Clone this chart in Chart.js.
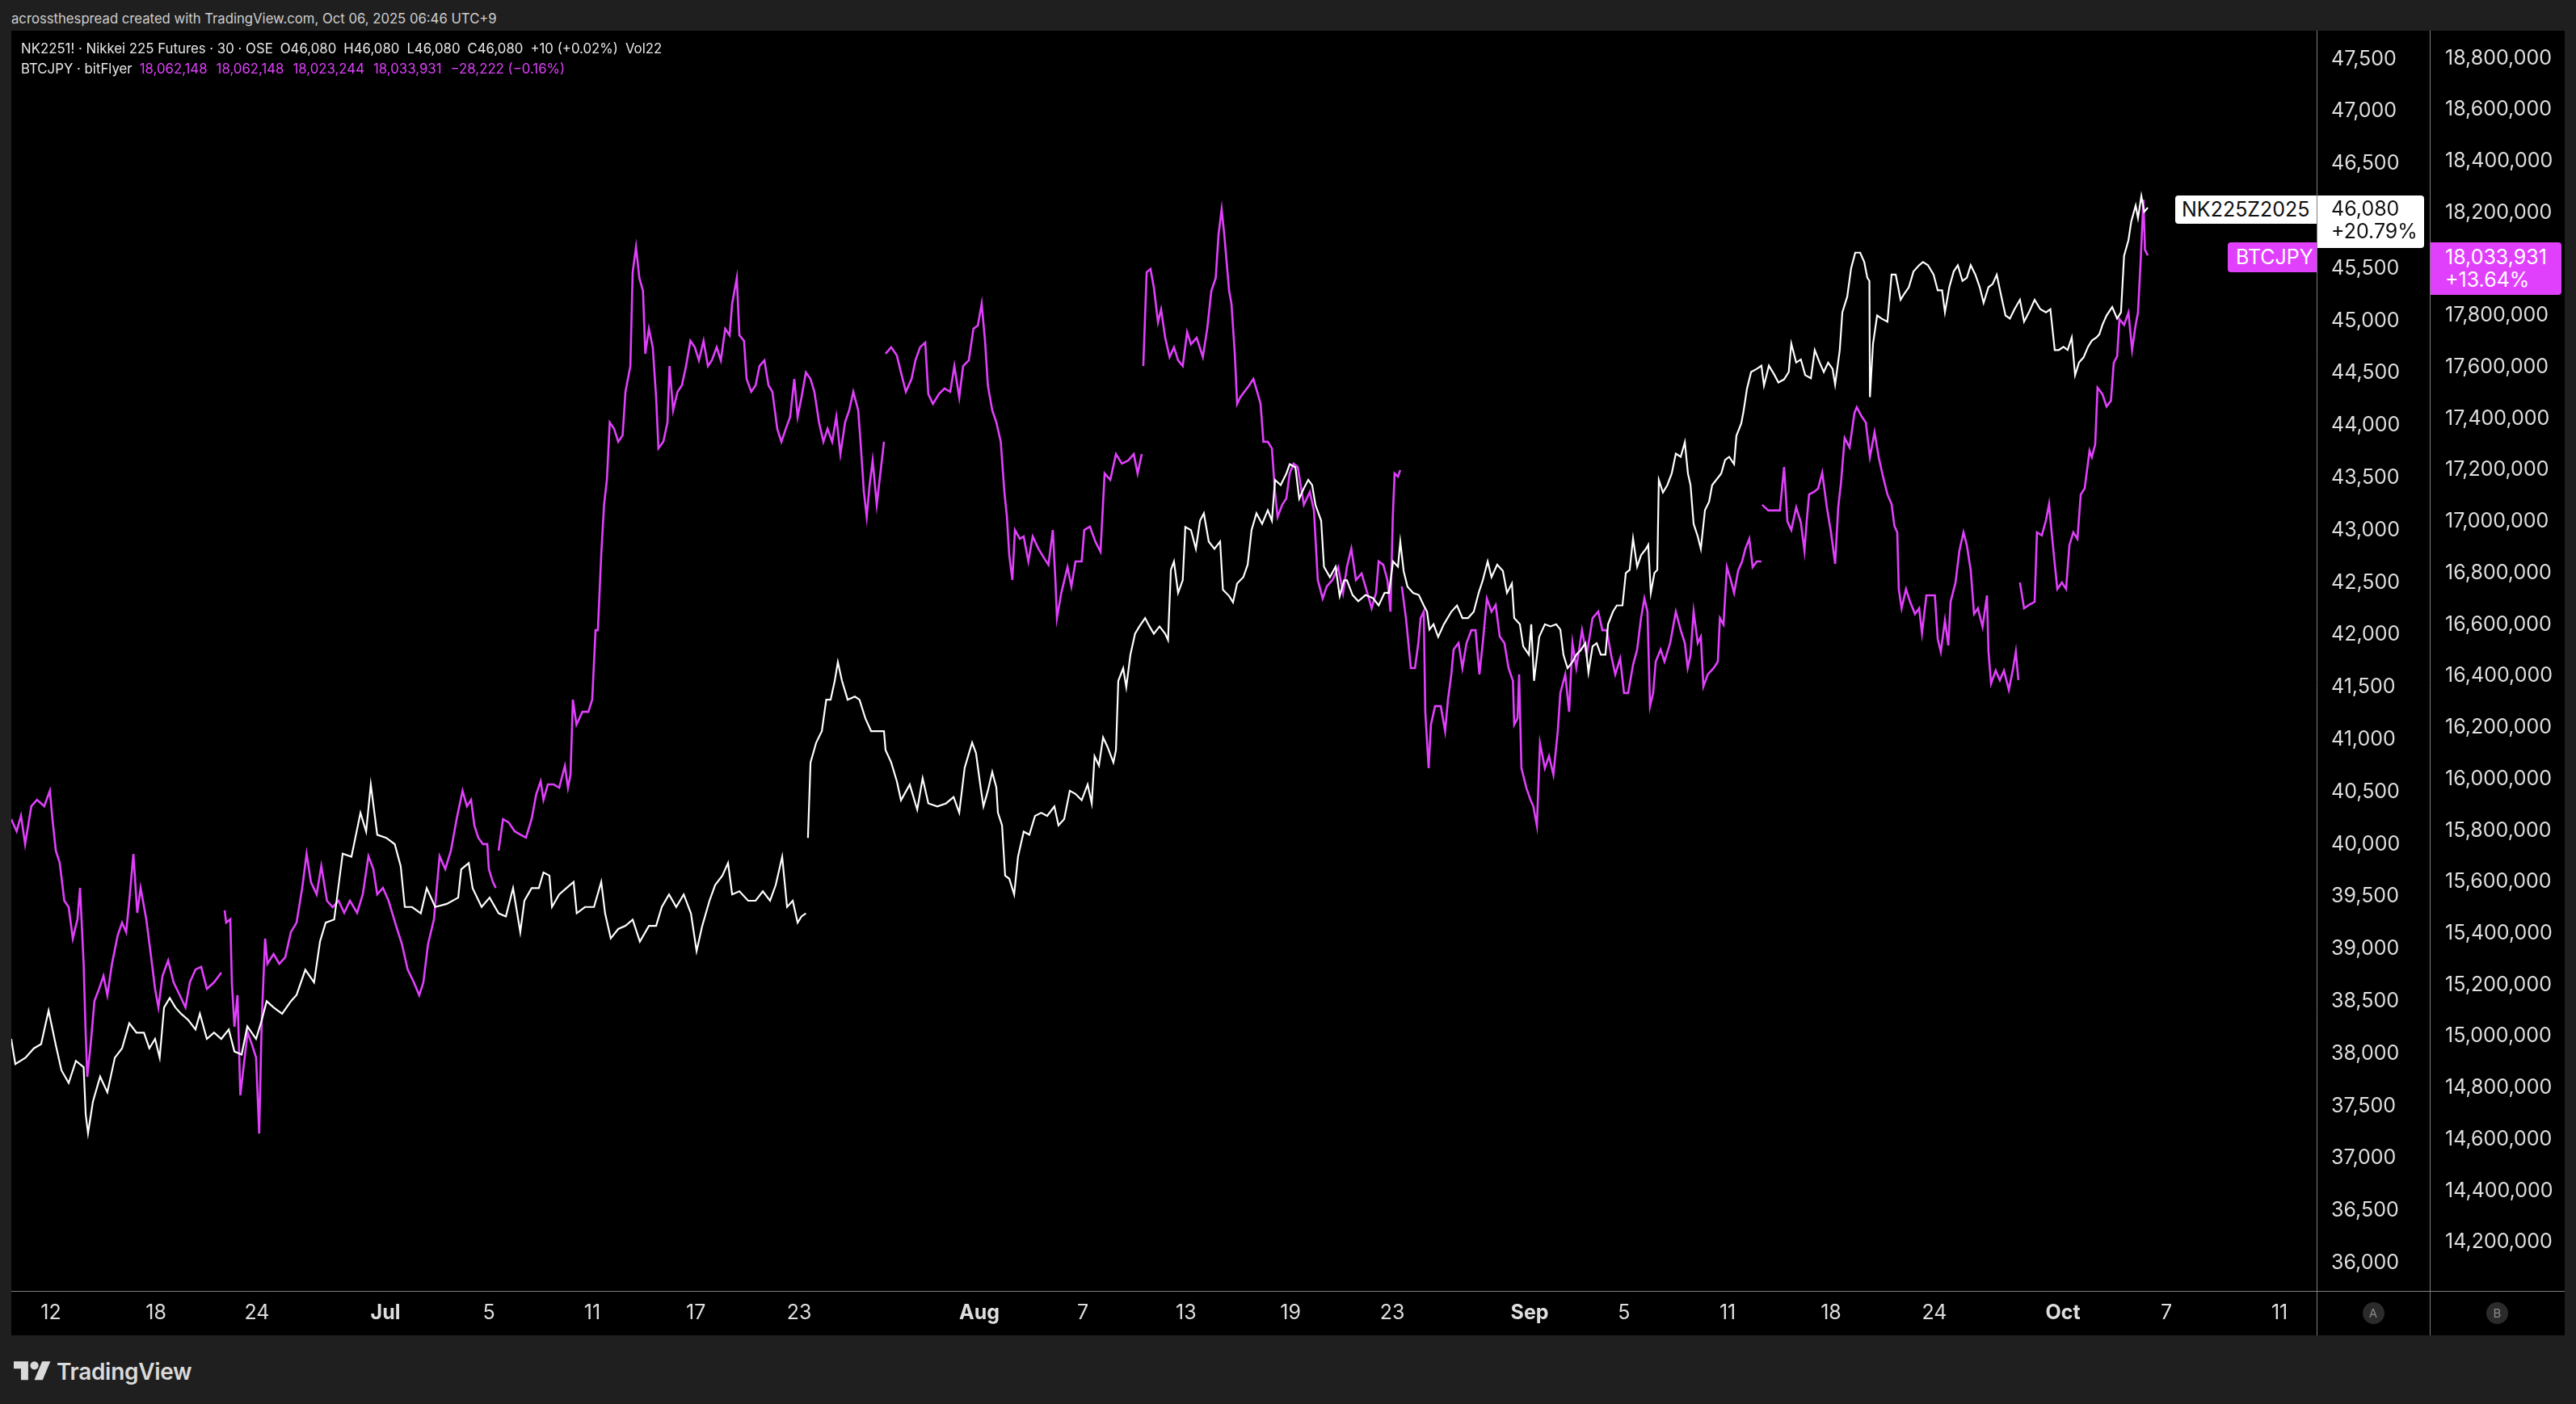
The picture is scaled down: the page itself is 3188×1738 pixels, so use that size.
<!DOCTYPE html>
<html>
<head>
<meta charset="utf-8">
<script src="https://cdn.jsdelivr.net/npm/chart.js@4.4.1/dist/chart.umd.min.js"></script>
<style>
html,body{margin:0;padding:0;background:#1f1f1f;width:3188px;height:1738px;overflow:hidden;font-family:Inter,"Noto Sans",sans-serif;}
#hdr{position:absolute;left:14px;top:13px;font-size:16.7px;line-height:20px;color:#cfcfcf;white-space:nowrap;}
#pane{position:absolute;left:14px;top:38px;width:3160px;height:1615px;background:#000;}
#legend{position:absolute;left:26px;top:48px;font-size:16.8px;line-height:25px;color:#e8e8e8;white-space:nowrap;}
#legend .g{display:inline-block;width:9px;}
#legend .g2{display:inline-block;width:11px;}
#legend .m{color:#e040fb;}
.lbl{position:absolute;font-size:25px;box-sizing:border-box;white-space:nowrap;}
#nkName{background:#fff;color:#111;width:175px;height:35px;line-height:35px;padding-left:8px;border-radius:4px 0 0 4px;}
#nkVal{background:#fff;color:#111;width:132px;height:65px;line-height:28px;padding:2px 0 0 17px;border-radius:0 4px 4px 0;}
#btcName{background:#e040fb;color:#fff;width:110px;height:37px;line-height:37px;padding-left:10px;border-radius:4px 0 0 4px;}
#btcVal{background:#e040fb;color:#fff;width:162px;height:65px;line-height:28px;padding:4px 0 0 18px;border-radius:0 4px 4px 0;}
.circ{position:absolute;width:27px;height:27px;border-radius:50%;background:#2b2b2b;color:#8a8a8a;font-size:15px;line-height:27px;text-align:center;}
#logo{position:absolute;left:17px;top:1680px;height:36px;display:flex;align-items:center;}
#logo span{font-size:28px;font-weight:600;color:#dadada;margin-left:7px;letter-spacing:-0.3px;}
</style>
</head>
<body>
<div id="hdr">acrossthespread created with TradingView.com, Oct 06, 2025 06:46 UTC+9</div>
<div id="pane"><canvas id="c" width="3160" height="1615"></canvas></div>
<div id="legend">
<div>NK2251! · Nikkei 225 Futures · 30 · OSE<span class="g"></span>O46,080<span class="g"></span>H46,080<span class="g"></span>L46,080<span class="g"></span>C46,080<span class="g"></span>+10 (+0.02%)<span class="g"></span>Vol22</div>
<div>BTCJPY · bitFlyer<span class="g"></span><span class="m">18,062,148<span class="g2"></span>18,062,148<span class="g2"></span>18,023,244<span class="g2"></span>18,033,931<span class="g2"></span>−28,222 (−0.16%)</span></div>
</div>
<div id="nkName" class="lbl">NK225Z2025</div>
<div id="nkVal" class="lbl"></div>
<div id="btcName" class="lbl">BTCJPY</div>
<div id="btcVal" class="lbl"></div>
<div id="circA" class="circ">A</div>
<div id="circB" class="circ">B</div>
<div id="logo"><svg width="46" height="36" viewBox="0 0 36 28"><path fill="#dadada" d="M14 22H7V11H0V4h14v18zM28 22h-8l7.5-18h8L28 22z"/><circle fill="#dadada" cx="20" cy="8" r="4"/></svg><span>TradingView</span></div>
<script>
// ---- time axis (trading days from Jun 12) ----
const tickDays = [0, 4.08, 7.99, 12.98, 16.99, 21.0, 25.02, 29.03, 36.02, 40.03, 44.04, 48.09, 52.04, 57.37, 61.03, 65.05, 69.06, 73.07, 78.06, 82.07, 86.46];
const tickLabels = ["12","18","24","Jul","5","11","17","23","Aug","7","13","19","23","Sep","5","11","18","24","Oct","7","11"];
const xMin = -1.536, xMax = 87.9;

// ---- price scales ----
const nkTicks = [36000,36500,37000,37500,38000,38500,39000,39500,40000,40500,41000,41500,42000,42500,43000,43500,44000,44500,45000,45500,46000,46500,47000,47500];
const btcTicks = [14200000,14400000,14600000,14800000,15000000,15200000,15400000,15600000,15800000,16000000,16200000,16400000,16600000,16800000,17000000,17200000,17400000,17600000,17800000,18000000,18200000,18400000,18600000,18800000];
const nkRange = [35733, 47770];
const btcRange = [14011400, 18906700];

// ---- series: [trading day, price] ----
const nkData = [[-1.54,38140],[-1.38,37900],[-0.99,37960],[-0.66,38050],[-0.38,38090],[-0.09,38410],[0.19,38080],[0.41,37840],[0.69,37720],[0.97,37930],[1.27,37870],[1.35,37420],[1.44,37240],[1.63,37540],[1.91,37780],[2.19,37630],[2.48,37960],[2.76,38050],[3.04,38290],[3.32,38200],[3.61,38200],[3.82,38050],[4.04,38140],[4.22,37960],[4.39,38440],[4.61,38530],[4.83,38440],[5.05,38380],[5.33,38320],[5.61,38230],[5.78,38380],[6.05,38140],[6.33,38200],[6.61,38140],[6.90,38230],[7.12,38020],[7.40,37990],[7.62,38260],[7.96,38140],[8.18,38320],[8.37,38500],[8.64,38440],[8.97,38380],[9.31,38500],[9.53,38560],[9.87,38800],[10.21,38680],[10.44,39070],[10.66,39250],[10.99,39280],[11.32,39910],[11.66,39880],[12.01,40300],[12.23,40120],[12.41,40570],[12.66,40090],[13.01,40060],[13.34,40000],[13.57,39790],[13.73,39400],[14.01,39400],[14.35,39340],[14.58,39580],[14.91,39400],[15.36,39430],[15.80,39490],[15.92,39760],[16.21,39820],[16.36,39580],[16.71,39400],[17.02,39490],[17.37,39340],[17.65,39310],[17.93,39580],[18.21,39160],[18.37,39460],[18.65,39580],[18.93,39580],[19.11,39730],[19.34,39700],[19.44,39400],[19.72,39520],[20.00,39580],[20.28,39640],[20.40,39340],[20.72,39400],[21.07,39400],[21.35,39640],[21.50,39340],[21.72,39100],[22.01,39190],[22.29,39220],[22.57,39280],[22.85,39070],[23.20,39220],[23.48,39220],[23.70,39400],[23.98,39520],[24.26,39400],[24.55,39520],[24.83,39340],[25.05,38980],[25.27,39220],[25.55,39460],[25.77,39610],[26.05,39700],[26.27,39820],[26.43,39520],[26.71,39550],[27.05,39460],[27.34,39460],[27.62,39550],[27.90,39460],[28.12,39610],[28.37,39880],[28.56,39400],[28.78,39460],[28.97,39250],[29.12,39310],[29.29,39340],[29.33,null],[29.37,40060],[29.47,40780],[29.69,40970],[29.91,41080],[30.08,41380],[30.25,41380],[30.41,41560],[30.53,41740],[30.69,41560],[30.91,41380],[31.19,41410],[31.37,41380],[31.60,41200],[31.82,41080],[32.10,41080],[32.32,41080],[32.38,40900],[32.60,40780],[32.82,40600],[32.98,40420],[33.32,40570],[33.61,40330],[33.82,40630],[34.04,40390],[34.39,40360],[34.73,40390],[35.02,40450],[35.24,40300],[35.45,40730],[35.74,40970],[35.89,40870],[36.07,40540],[36.18,40360],[36.35,40510],[36.52,40690],[36.68,40540],[36.74,40300],[36.90,40180],[37.02,39700],[37.18,39670],[37.37,39520],[37.52,39880],[37.74,40120],[37.96,40090],[38.18,40270],[38.42,40300],[38.65,40270],[38.93,40360],[39.09,40180],[39.31,40240],[39.53,40510],[39.75,40480],[39.99,40420],[40.22,40570],[40.38,40390],[40.49,40840],[40.66,40750],[40.82,41020],[40.99,40930],[41.22,40780],[41.32,40900],[41.41,41560],[41.60,41680],[41.72,41500],[41.88,41810],[42.06,42010],[42.23,42080],[42.45,42160],[42.62,42080],[42.79,42010],[43.01,42080],[43.23,42010],[43.34,41950],[43.45,42620],[43.57,42700],[43.73,42400],[43.91,42520],[44.01,43030],[44.23,43000],[44.42,42820],[44.58,43090],[44.73,43160],[44.92,42890],[45.14,42820],[45.36,42890],[45.47,42430],[45.71,42370],[45.86,42310],[46.02,42490],[46.26,42550],[46.43,42670],[46.58,43000],[46.77,43160],[46.99,43060],[47.21,43190],[47.37,43090],[47.49,43480],[47.71,43430],[47.93,43540],[48.06,43630],[48.28,43600],[48.43,43300],[48.61,43400],[48.78,43480],[48.93,43430],[49.06,43240],[49.28,43090],[49.39,42650],[49.62,42550],[49.84,42650],[50.00,42370],[50.17,42520],[50.28,42520],[50.50,42380],[50.72,42320],[51.00,42380],[51.29,42350],[51.51,42280],[51.74,42400],[51.91,42400],[52.07,42700],[52.26,42650],[52.35,42890],[52.48,42610],[52.63,42460],[52.85,42400],[53.07,42380],[53.26,42280],[53.39,42220],[53.48,42050],[53.64,42100],[53.82,41980],[54.04,42100],[54.33,42220],[54.55,42280],[54.76,42160],[54.98,42160],[55.20,42220],[55.39,42400],[55.55,42520],[55.74,42700],[55.89,42550],[56.11,42670],[56.33,42610],[56.49,42400],[56.68,42490],[56.77,42160],[56.99,42100],[57.12,41890],[57.34,41810],[57.43,42100],[57.54,41560],[57.74,41980],[57.96,42100],[58.18,42080],[58.40,42100],[58.56,42050],[58.68,41810],[58.84,41680],[59.03,41740],[59.18,41810],[59.34,41850],[59.53,41920],[59.65,41640],[59.81,41890],[59.97,41920],[60.13,41810],[60.31,41810],[60.41,42100],[60.60,42220],[60.75,42280],[60.97,42280],[61.10,42590],[61.25,42620],[61.38,42920],[61.54,42650],[61.69,42760],[61.88,42820],[61.97,42860],[62.07,42400],[62.21,42590],[62.32,42620],[62.38,43480],[62.54,43360],[62.71,43430],[62.88,43540],[63.04,43730],[63.23,43700],[63.39,43840],[63.51,43540],[63.61,43430],[63.73,43060],[63.89,42940],[64.01,42820],[64.17,43190],[64.33,43270],[64.45,43430],[64.61,43480],[64.80,43540],[64.95,43670],[65.11,43700],[65.30,43630],[65.39,43900],[65.58,44020],[65.67,44140],[65.80,44350],[65.96,44510],[66.18,44540],[66.36,44570],[66.46,44380],[66.65,44570],[66.87,44480],[67.02,44410],[67.24,44440],[67.42,44510],[67.52,44780],[67.71,44600],[67.89,44630],[68.06,44480],[68.28,44450],[68.43,44720],[68.62,44600],[68.78,44510],[68.95,44600],[69.12,44540],[69.22,44390],[69.40,44720],[69.50,45080],[69.69,45230],[69.84,45500],[70.00,45650],[70.19,45650],[70.35,45560],[70.47,45410],[70.55,45380],[70.57,44270],[70.69,44780],[70.85,45050],[71.02,45020],[71.25,44990],[71.41,45440],[71.57,45440],[71.76,45200],[71.91,45260],[72.08,45320],[72.26,45470],[72.48,45530],[72.63,45560],[72.82,45530],[73.04,45440],[73.20,45290],[73.37,45290],[73.48,45080],[73.65,45320],[73.82,45470],[73.98,45530],[74.16,45380],[74.33,45410],[74.48,45530],[74.66,45440],[74.83,45320],[74.98,45170],[75.17,45320],[75.33,45350],[75.49,45440],[75.67,45230],[75.83,45050],[76.00,45020],[76.18,45110],[76.39,45200],[76.55,44990],[76.74,45080],[76.96,45200],[77.18,45110],[77.40,45080],[77.57,45110],[77.74,44720],[77.90,44720],[78.08,44750],[78.24,44720],[78.40,44840],[78.53,44480],[78.68,44600],[78.86,44650],[79.03,44750],[79.18,44810],[79.36,44840],[79.47,44870],[79.59,44960],[79.75,45050],[79.97,45130],[80.16,45020],[80.31,45080],[80.43,45620],[80.60,45770],[80.71,45950],[80.88,46100],[80.97,45980],[81.10,46190],[81.21,46040],[81.35,46080]];

const btcData = [[-1.54,15844000],[-1.33,15797000],[-1.16,15857000],[-1.00,15747000],[-0.76,15894000],[-0.54,15919000],[-0.26,15894000],[-0.04,15954000],[0.06,15844000],[0.19,15722000],[0.34,15675000],[0.52,15527000],[0.69,15502000],[0.85,15380000],[1.03,15455000],[1.13,15577000],[1.27,15282000],[1.34,15038000],[1.41,14843000],[1.54,14965000],[1.69,15138000],[1.87,15185000],[2.04,15235000],[2.19,15160000],[2.37,15282000],[2.59,15392000],[2.76,15442000],[2.92,15405000],[3.04,15527000],[3.20,15709000],[3.35,15480000],[3.48,15577000],[3.70,15455000],[3.89,15307000],[4.04,15185000],[4.17,15113000],[4.33,15235000],[4.55,15295000],[4.76,15210000],[5.00,15160000],[5.22,15113000],[5.39,15210000],[5.61,15260000],[5.83,15270000],[6.05,15185000],[6.33,15210000],[6.61,15248000],[6.68,null],[6.74,15490000],[6.80,15442000],[6.96,15455000],[7.02,15210000],[7.12,15038000],[7.24,15160000],[7.35,14771000],[7.46,14868000],[7.63,15016000],[7.81,14965000],[7.96,14918000],[8.08,14623000],[8.18,15063000],[8.31,15380000],[8.40,15282000],[8.64,15320000],[8.86,15282000],[9.09,15307000],[9.31,15405000],[9.53,15442000],[9.75,15577000],[9.92,15709000],[10.09,15599000],[10.31,15552000],[10.49,15662000],[10.71,15527000],[10.93,15502000],[11.16,15527000],[11.38,15480000],[11.60,15527000],[11.88,15480000],[12.10,15552000],[12.32,15700000],[12.51,15650000],[12.66,15552000],[12.88,15577000],[13.10,15527000],[13.39,15430000],[13.62,15358000],[13.84,15260000],[14.08,15210000],[14.29,15160000],[14.45,15210000],[14.63,15358000],[14.86,15455000],[15.08,15700000],[15.30,15650000],[15.52,15722000],[15.74,15844000],[15.97,15954000],[16.14,15894000],[16.30,15919000],[16.43,15819000],[16.58,15772000],[16.76,15747000],[16.93,15747000],[16.99,15650000],[17.15,15599000],[17.26,15577000],[17.31,null],[17.37,15722000],[17.54,15844000],[17.76,15831000],[17.99,15797000],[18.21,15784000],[18.43,15772000],[18.65,15844000],[18.83,15941000],[19.00,15991000],[19.11,15919000],[19.28,15979000],[19.50,15979000],[19.72,15966000],[19.94,16051000],[20.06,15966000],[20.16,16017000],[20.25,16308000],[20.39,16211000],[20.62,16261000],[20.85,16261000],[21.00,16308000],[21.13,16578000],[21.22,16578000],[21.35,16870000],[21.46,17065000],[21.57,17162000],[21.68,17385000],[21.85,17360000],[22.01,17310000],[22.18,17335000],[22.29,17504000],[22.48,17604000],[22.57,17968000],[22.70,18066000],[22.83,17946000],[22.97,17896000],[23.06,17652000],[23.20,17749000],[23.35,17677000],[23.48,17482000],[23.57,17284000],[23.76,17310000],[23.92,17385000],[24.00,17604000],[24.14,17432000],[24.31,17504000],[24.48,17529000],[24.64,17604000],[24.81,17702000],[24.98,17677000],[25.14,17626000],[25.32,17702000],[25.49,17604000],[25.64,17626000],[25.83,17677000],[25.99,17626000],[26.16,17749000],[26.33,17724000],[26.43,17846000],[26.61,17946000],[26.71,17724000],[26.89,17702000],[26.99,17554000],[27.17,17504000],[27.34,17529000],[27.49,17604000],[27.68,17626000],[27.84,17529000],[27.99,17504000],[28.18,17360000],[28.34,17310000],[28.51,17360000],[28.68,17407000],[28.84,17554000],[28.97,17407000],[29.12,17482000],[29.29,17579000],[29.47,17554000],[29.62,17504000],[29.80,17385000],[29.97,17310000],[30.13,17360000],[30.31,17310000],[30.47,17407000],[30.63,17262000],[30.81,17385000],[30.97,17432000],[31.13,17504000],[31.32,17432000],[31.41,17310000],[31.54,17115000],[31.65,17018000],[31.76,17140000],[31.88,17237000],[32.04,17065000],[32.15,17162000],[32.32,17310000],[32.35,null],[32.38,17652000],[32.60,17677000],[32.82,17645000],[32.98,17579000],[33.17,17504000],[33.39,17554000],[33.54,17626000],[33.72,17677000],[33.92,17695000],[34.04,17495000],[34.22,17457000],[34.45,17495000],[34.67,17517000],[34.89,17504000],[35.05,17604000],[35.24,17482000],[35.39,17604000],[35.61,17626000],[35.79,17749000],[35.96,17761000],[36.11,17846000],[36.24,17702000],[36.35,17529000],[36.52,17432000],[36.68,17385000],[36.85,17310000],[36.99,17115000],[37.09,17018000],[37.18,16870000],[37.30,16773000],[37.40,16967000],[37.59,16933000],[37.74,16942000],[37.92,16845000],[38.09,16942000],[38.31,16895000],[38.53,16858000],[38.70,16832000],[38.87,16967000],[38.97,16773000],[39.03,16625000],[39.20,16723000],[39.44,16823000],[39.59,16748000],[39.75,16845000],[39.99,16845000],[40.09,16967000],[40.31,16980000],[40.53,16920000],[40.72,16883000],[40.88,17187000],[41.10,17162000],[41.32,17262000],[41.55,17225000],[41.79,17237000],[42.01,17262000],[42.16,17187000],[42.32,17262000],[42.35,null],[42.38,17604000],[42.51,17968000],[42.66,17981000],[42.79,17909000],[42.95,17774000],[43.07,17824000],[43.23,17714000],[43.40,17639000],[43.57,17677000],[43.73,17626000],[43.91,17604000],[44.08,17736000],[44.23,17689000],[44.45,17714000],[44.69,17639000],[44.86,17749000],[45.02,17896000],[45.19,17946000],[45.30,18116000],[45.42,18213000],[45.52,18116000],[45.71,17896000],[45.80,17846000],[45.93,17652000],[46.02,17457000],[46.14,17482000],[46.30,17504000],[46.49,17529000],[46.65,17554000],[46.80,17504000],[46.93,17457000],[47.04,17310000],[47.21,17310000],[47.37,17284000],[47.49,17115000],[47.59,17018000],[47.77,17065000],[47.93,17090000],[48.06,17187000],[48.21,17225000],[48.37,17212000],[48.61,17065000],[48.84,17115000],[49.00,17043000],[49.15,16773000],[49.34,16701000],[49.50,16748000],[49.72,16773000],[49.94,16823000],[50.13,16723000],[50.28,16823000],[50.45,16895000],[50.63,16773000],[50.85,16798000],[51.07,16723000],[51.24,16663000],[51.41,16723000],[51.51,16845000],[51.69,16832000],[51.85,16773000],[51.97,16650000],[52.06,17018000],[52.13,17187000],[52.26,17175000],[52.35,17200000],[52.38,null],[52.41,16748000],[52.57,16625000],[52.76,16431000],[52.92,16431000],[53.05,16528000],[53.14,16625000],[53.26,16650000],[53.32,16261000],[53.45,16042000],[53.54,16211000],[53.70,16283000],[53.92,16283000],[54.09,16186000],[54.20,16308000],[54.33,16406000],[54.42,16503000],[54.61,16528000],[54.76,16431000],[54.92,16528000],[55.11,16578000],[55.27,16578000],[55.42,16406000],[55.55,16528000],[55.71,16701000],[55.89,16650000],[56.05,16676000],[56.21,16553000],[56.39,16528000],[56.55,16431000],[56.72,16381000],[56.77,16211000],[56.90,16236000],[56.96,16406000],[57.05,16042000],[57.24,15966000],[57.40,15919000],[57.51,15894000],[57.65,15819000],[57.77,16139000],[57.96,16042000],[58.12,16089000],[58.29,16017000],[58.46,16186000],[58.56,16334000],[58.75,16406000],[58.90,16261000],[59.03,16528000],[59.18,16431000],[59.40,16578000],[59.58,16481000],[59.81,16625000],[60.03,16650000],[60.19,16578000],[60.36,16578000],[60.53,16481000],[60.69,16406000],[60.88,16468000],[61.03,16334000],[61.19,16334000],[61.38,16443000],[61.54,16503000],[61.69,16625000],[61.82,16701000],[61.94,16650000],[62.04,16283000],[62.16,16334000],[62.26,16456000],[62.45,16503000],[62.60,16456000],[62.82,16528000],[63.04,16650000],[63.23,16578000],[63.39,16528000],[63.50,16431000],[63.61,16481000],[63.73,16650000],[63.89,16528000],[64.01,16553000],[64.11,16359000],[64.28,16406000],[64.51,16431000],[64.67,16456000],[64.75,16625000],[64.89,16600000],[65.02,16823000],[65.17,16773000],[65.30,16723000],[65.46,16810000],[65.61,16845000],[65.74,16895000],[65.89,16933000],[66.02,16823000],[66.18,16845000],[66.36,16845000],[66.37,null],[66.39,17065000],[66.63,17043000],[66.87,17043000],[67.08,17043000],[67.24,17212000],[67.37,17000000],[67.52,16967000],[67.71,17055000],[67.89,16996000],[68.03,16886000],[68.12,17005000],[68.21,17105000],[68.40,17115000],[68.56,17128000],[68.72,17190000],[68.90,17055000],[69.06,16958000],[69.22,16836000],[69.34,17055000],[69.45,17153000],[69.59,17325000],[69.78,17288000],[69.97,17422000],[70.06,17444000],[70.24,17410000],[70.41,17385000],[70.57,17250000],[70.75,17347000],[70.91,17250000],[71.07,17178000],[71.25,17105000],[71.41,17068000],[71.52,16983000],[71.63,16958000],[71.69,16738000],[71.80,16663000],[71.97,16738000],[72.13,16688000],[72.32,16641000],[72.48,16663000],[72.59,16566000],[72.76,16713000],[72.92,16713000],[73.09,16713000],[73.20,16544000],[73.32,16494000],[73.48,16616000],[73.61,16519000],[73.70,16688000],[73.89,16763000],[74.04,16886000],[74.20,16958000],[74.33,16908000],[74.48,16811000],[74.61,16641000],[74.76,16663000],[74.94,16591000],[75.11,16713000],[75.17,16494000],[75.27,16371000],[75.45,16421000],[75.61,16384000],[75.77,16421000],[75.96,16346000],[76.11,16421000],[76.23,16494000],[76.33,16384000],[76.36,null],[76.39,16763000],[76.55,16663000],[76.74,16676000],[76.96,16688000],[77.05,16958000],[77.24,16946000],[77.40,17005000],[77.52,17068000],[77.62,16958000],[77.74,16836000],[77.84,16738000],[78.02,16763000],[78.18,16738000],[78.31,16908000],[78.46,16958000],[78.62,16933000],[78.75,17105000],[78.90,17128000],[79.09,17275000],[79.18,17250000],[79.31,17300000],[79.40,17520000],[79.59,17495000],[79.75,17447000],[79.92,17469000],[80.03,17617000],[80.16,17642000],[80.25,17786000],[80.43,17764000],[80.60,17812000],[80.74,17667000],[80.88,17764000],[80.97,17812000],[81.07,18006000],[81.18,18251000],[81.24,18056000],[81.35,18033931]];

const nkChangeLabel = "+20.79%";
const btcChangeLabel = "+13.64%";

const WHITE = "#ffffff", MAGENTA = "#e040fb", SEP = "#7d7d7d", TICK = "#dedede";
const PANE_X = 14, PANE_Y = 38;
const fmt = v => Math.round(v).toLocaleString('en-US');
const isMonth = i => /^[A-Za-z]/.test(tickLabels[i] || "");

const nkLast = nkData[nkData.length - 1][1];
const btcLast = btcData[btcData.length - 1][1];
document.getElementById('nkVal').innerHTML = fmt(nkLast) + "<br>" + nkChangeLabel;
document.getElementById('btcVal').innerHTML = fmt(btcLast) + "<br>" + btcChangeLabel;

function place(id, left, top) {
  const el = document.getElementById(id);
  el.style.left = left + "px"; el.style.top = top + "px";
}
function noPad(s) { s.paddingTop = 0; s.paddingBottom = 0; s.paddingLeft = 0; s.paddingRight = 0; }

const overlay = {
  id: 'overlay',
  afterDraw(chart) {
    const { ctx, chartArea, scales } = chart;
    const xa = Math.round(scales.yNK.left) + 0.5;
    const xb = Math.round(scales.yBTC.left) + 0.5;
    const yb = Math.round(chartArea.bottom) + 0.5;
    ctx.save();
    ctx.strokeStyle = SEP; ctx.lineWidth = 1;
    ctx.beginPath();
    ctx.moveTo(xa, 0); ctx.lineTo(xa, chart.height);
    ctx.moveTo(xb, 0); ctx.lineTo(xb, chart.height);
    ctx.moveTo(0, yb); ctx.lineTo(chart.width, yb);
    ctx.stroke();
    ctx.restore();

    const yN = scales.yNK.getPixelForValue(nkLast) + PANE_Y;
    const yB = scales.yBTC.getPixelForValue(btcLast) + PANE_Y;
    const aL = scales.yNK.left + PANE_X, bL = scales.yBTC.left + PANE_X;
    place('nkName', aL - 175, Math.round(yN - 15));
    place('nkVal', aL + 1, Math.round(yN - 15));
    place('btcName', aL - 110, Math.round(yB - 16));
    place('btcVal', bL + 1, Math.round(yB - 16));
    const cy = (chartArea.bottom + chart.height) / 2 + PANE_Y;
    place('circA', (scales.yNK.left + scales.yNK.right) / 2 + PANE_X - 13.5, cy - 13.5);
    place('circB', (scales.yBTC.left + scales.yBTC.right) / 2 + PANE_X - 13.5, cy - 13.5);
  }
};

new Chart(document.getElementById('c'), {
  type: 'line',
  data: {
    datasets: [
      { label: 'NK225Z2025', data: nkData.map(p => ({ x: p[0], y: p[1] })), yAxisID: 'yNK',
        borderColor: WHITE, borderWidth: 2.2, pointRadius: 0, tension: 0, spanGaps: false },
      { label: 'BTCJPY', data: btcData.map(p => ({ x: p[0], y: p[1] })), yAxisID: 'yBTC',
        borderColor: MAGENTA, borderWidth: 2.6, pointRadius: 0, tension: 0, spanGaps: false }
    ]
  },
  options: {
    responsive: false, animation: false, devicePixelRatio: 1,
    layout: { padding: 0 },
    plugins: { legend: { display: false }, tooltip: { enabled: false } },
    scales: {
      x: {
        type: 'linear', position: 'bottom', min: xMin, max: xMax,
        grid: { display: false, drawTicks: false }, border: { display: false },
        afterBuildTicks: s => { s.ticks = tickDays.map(v => ({ value: v })); },
        afterFit: s => { s.height = 55; noPad(s); },
        ticks: {
          autoSkip: false, maxRotation: 0, minRotation: 0, padding: 12, color: TICK,
          font: c => ({ family: 'Inter', size: 25, weight: isMonth(c.index) ? '700' : '400' }),
          callback: (v, i) => tickLabels[i]
        }
      },
      yNK: {
        type: 'linear', position: 'right', weight: 0, min: nkRange[0], max: nkRange[1],
        grid: { display: false, drawTicks: false }, border: { display: false },
        afterBuildTicks: s => { s.ticks = nkTicks.map(v => ({ value: v })); },
        afterFit: s => { s.width = 140; noPad(s); },
        ticks: { padding: 18, color: TICK, font: { family: 'Inter', size: 25 }, callback: v => fmt(v) }
      },
      yBTC: {
        type: 'linear', position: 'right', weight: 1, min: btcRange[0], max: btcRange[1],
        grid: { display: false, drawTicks: false }, border: { display: false },
        afterBuildTicks: s => { s.ticks = btcTicks.map(v => ({ value: v })); },
        afterFit: s => { s.width = 167; noPad(s); },
        ticks: { padding: 19, color: TICK, font: { family: 'Inter', size: 25 }, callback: v => fmt(v) }
      }
    }
  },
  plugins: [overlay]
});
</script>
</body>
</html>
